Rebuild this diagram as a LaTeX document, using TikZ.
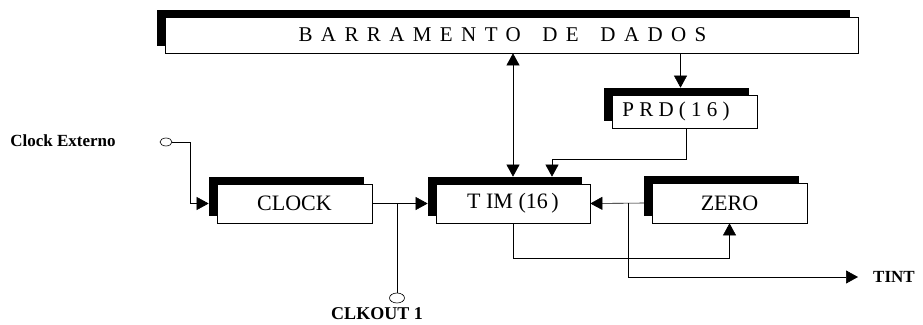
\documentclass[tikz,border=0pt]{standalone}
\usepackage{fontspec}
\setmainfont{Liberation Serif}
\newfontfamily\busfont[LetterSpace=40]{Liberation Serif}
\newfontfamily\prdfont[LetterSpace=25]{Liberation Serif}
\usetikzlibrary{arrows.meta,calc,shadows,shapes.geometric}

\begin{document}
\begin{tikzpicture}[
    x=1pt, y=-1pt,
    block/.style={
        draw,
        fill=white,
        line width=0.7pt,
        inner sep=0pt,
        font=\fontsize{22}{24}\selectfont,
        drop shadow={shadow xshift=-8pt, shadow yshift=7pt, opacity=1, fill=black}
    },
    pinout/.style={draw, ellipse, line width=0.6pt, minimum width=12pt, minimum height=8pt, inner sep=0pt},
    lbl/.style={font=\bfseries\fontsize{17}{19}\selectfont, inner sep=0pt},
    wire/.style={line width=0.6pt},
    arrow/.style={-{Triangle[length=12pt,width=13pt]}, line width=0.6pt},
    dualarrow/.style={{Triangle[length=12pt,width=13pt]}-{Triangle[length=12pt,width=13pt]}, line width=0.6pt}
]
\useasboundingbox (0,0) rectangle (923,324);

% blocos
\node[block, minimum width=693pt, minimum height=36pt, font=\busfont\fontsize{21}{23}\selectfont] (bus) at (511.5,35)
    {BARRAMENTO\hspace{8pt} DE\hspace{8pt} DADOS\hspace*{18pt}};
\node[block, minimum width=145pt, minimum height=33pt, font=\prdfont\fontsize{21}{23}\selectfont] (prd) at (684.5,111.5)
    {PRD(16)\hspace*{17pt}};
\node[block, minimum width=155pt, minimum height=39pt] (clock) at (294.5,203.5) {CLOCK};
\node[block, minimum width=154pt, minimum height=39pt] (tim) at (513,203.5) {T IM (16\,)};
\node[block, minimum width=155pt, minimum height=40pt] (zero) at (729.5,203) {ZERO};

% entradas e saidas
\node[pinout] (ext) at (166,142) {};
\node[lbl] (extlbl) at (63,141) {Clock Externo};
\node[pinout, minimum width=15pt, minimum height=10pt] (clkout) at (397,298) {};
\node[lbl, font=\bfseries\fontsize{18}{20}\selectfont] (clkoutlbl) at (377,314) {CLKOUT 1};
\node[lbl, anchor=west] (tint) at (873,277) {TINT};

\coordinate (clktap) at (397,203.5);
\coordinate (zerotap) at (628,203);

\draw[arrow] (ext.east) -- +(18,0) |- ($(clock.west)+(-8,0)$);
\draw[arrow] (clock.east) -- ($(tim.west)+(-8,0)$);
\draw[wire] (clktap) -- (clkout.north);
\draw[dualarrow] (tim.north |- bus.south) -- ($(tim.north)+(0,-7)$);
\draw[arrow] ($(prd.north |- bus.south)+(-4,0)$) -- ($(prd.north)+(-4,-7)$);
\draw[arrow] ($(prd.south)+(2,0)$) -- +(0,31) -| ($(tim.north)+(39,-7)$);
\draw[arrow] ($(zero.west)+(-7,0)$) -- (tim.east);
\draw[arrow, shorten >=15pt] (zerotap) |- (tint.west);
\draw[arrow] (tim.south) -- +(0,35) -| (zero.south);
\end{tikzpicture}
\end{document}
